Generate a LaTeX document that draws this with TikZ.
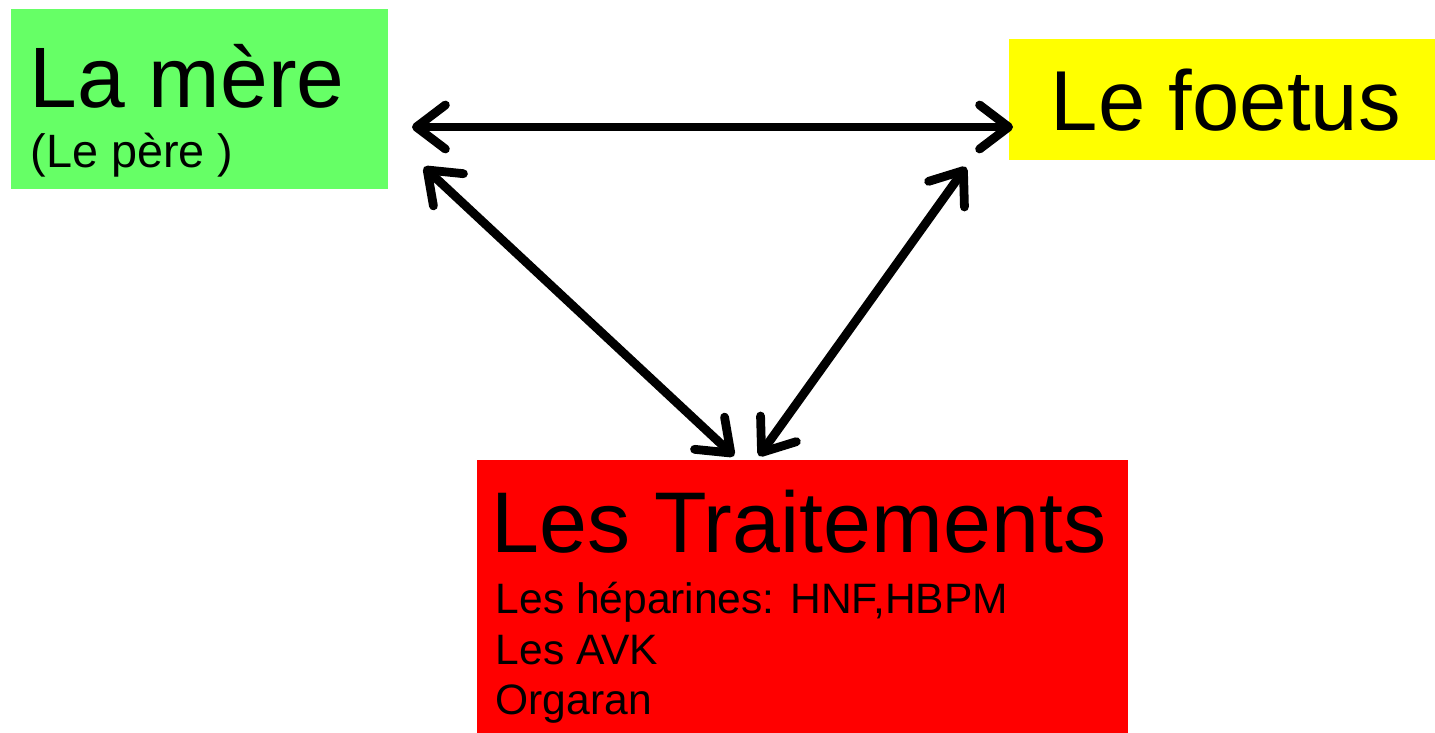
\documentclass[tikz,border=0pt]{standalone}
\usepackage{fontspec}
\setmainfont{Liberation Sans}
\usetikzlibrary{arrows.meta}
\definecolor{mereGreen}{HTML}{66FF66}
\definecolor{foetusYellow}{HTML}{FFFF00}
\definecolor{traitRed}{HTML}{FF0000}
\tikzset{
  box/.style={draw=none, inner sep=0pt, anchor=north west},
  txt/.style={inner sep=0pt, anchor=base west},
  barb/.tip={Straight Barb[round, length=2.9mm, width=4.4mm]},
  link/.style={barb-barb, line width=2.5pt}
}
\begin{document}
\begin{tikzpicture}[x=0.01cm, y=-0.01cm]
  \useasboundingbox (0,0) rectangle (1435,733);
  %% Coloured blocks
  \node[box, fill=mereGreen, minimum width=3.77cm, minimum height=1.80cm] (mere) at (10,8) {};
  \node[box, fill=foetusYellow, minimum width=4.27cm, minimum height=1.21cm] (foetus) at (1008,38) {};
  \node[box, fill=traitRed, minimum width=6.51cm, minimum height=2.74cm] (traitements) at (476,459) {};
  %% Texts
  \node[txt, font=\fontsize{24.4}{28}\selectfont] (mereTitle) at (29,107) {La mère};
  \node[txt, font=\fontsize{13.3}{16}\selectfont] (pere) at (30,167) {(Le père )};
  \node[txt, font=\fontsize{24.2}{28}\selectfont] (foetusTitle) at (1050,130) {Le foetus};
  \node[txt, font=\fontsize{24.5}{28}\selectfont] (traitTitle) at (491,552) {Les Traitements};
  \node[txt, font=\fontsize{12.1}{14.5}\selectfont] (heparines) at (495,613) {Les héparines: HNF,HBPM};
  \node[txt, font=\fontsize{12.1}{14.5}\selectfont] (avk) at (495,664) {Les AVK};
  \node[txt, font=\fontsize{12.1}{14.5}\selectfont] (orgaran) at (495,714) {Orgaran};
  %% Arrow ends
  \coordinate (mereRight) at (412,127);
  \coordinate (foetusLeft) at (1013,127);
  \coordinate (mereLow) at (424,167);
  \coordinate (traitLeft) at (734,456);
  \coordinate (foetusLow) at (966,167);
  \coordinate (traitRight) at (759,456);
  %% Links
  \draw[link] (mereRight) -- (foetusLeft);
  \draw[link] (mereLow) -- (traitLeft);
  \draw[link] (foetusLow) -- (traitRight);
\end{tikzpicture}
\end{document}
